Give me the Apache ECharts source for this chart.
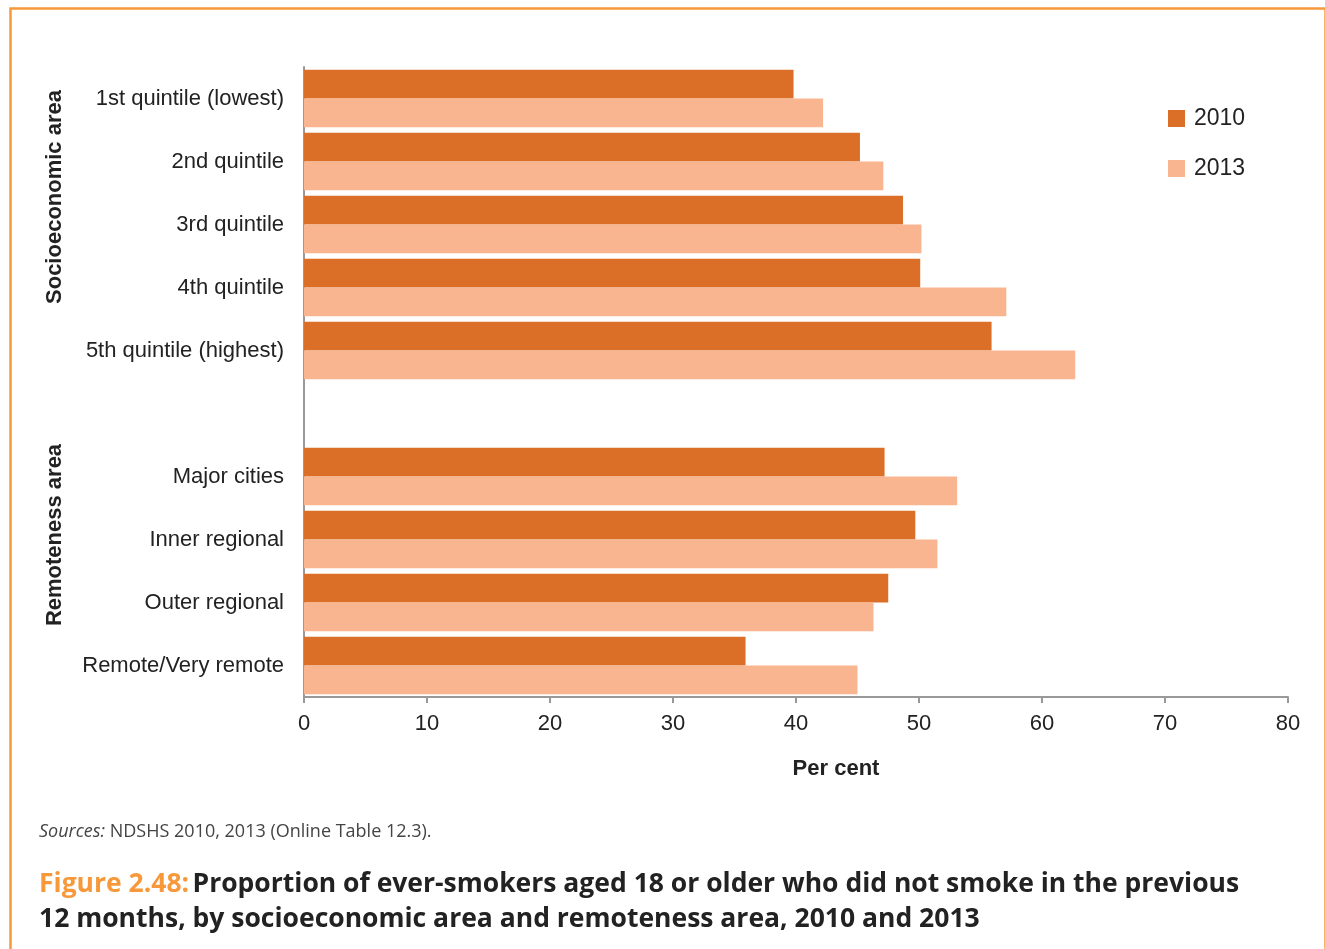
<!DOCTYPE html>
<html>
<head>
  <meta charset="UTF-8">
  <title>Figure 2.48</title>
  <script src="https://cdn.jsdelivr.net/npm/echarts@6/dist/echarts.min.js"></script>
  <style>
    * { margin: 0; padding: 0; }
    html, body { width: 1325px; height: 949px; background: #fff; overflow: hidden; }
    #main { width: 1325px; height: 949px; }
  </style>
</head>
<body>
<div id="main"></div>
<script>
  // categories (blank one = gap between the two groups)
  var categories = ['1st quintile (lowest)', '2nd quintile', '3rd quintile', '4th quintile', '5th quintile (highest)',
                    '', 'Major cities', 'Inner regional', 'Outer regional', 'Remote/Very remote'];
  var years = ['2010', '2013'];
  var values2010 = [39.8, 45.2, 48.7, 50.1, 55.9, null, 47.2, 49.7, 47.5, 35.9];
  var values2013 = [42.2, 47.1, 50.2, 57.1, 62.7, null, 53.1, 51.5, 46.3, 45.0];
  var xTicks = { min: 0, max: 80, step: 10 };

  var chart = echarts.init(document.getElementById('main'));
  var font = 'Liberation Sans, Arial, sans-serif';
  var capFont = 'Open Sans, Noto Sans, sans-serif';

  var option = {
    color: ['#DB6F27', '#F9B590'],
    animation: false,
    textStyle: { fontFamily: font },
    grid: { left: 304, right: 37, top: 67, bottom: 252 },
    legend: {
      orient: 'vertical',
      left: 1163, top: 102,
      itemWidth: 17, itemHeight: 17, itemGap: 27,
      icon: 'rect',
      textStyle: { fontSize: 23, color: '#222', fontFamily: font, padding: [0, 0, 0, 4] },
      data: years
    },
    xAxis: {
      type: 'value',
      min: xTicks.min, max: xTicks.max, interval: xTicks.step,
      splitLine: { show: false },
      axisLine: { show: true, lineStyle: { color: '#999', width: 2 } },
      axisTick: { show: true, length: 6, lineStyle: { color: '#999', width: 2 } },
      axisLabel: { fontSize: 22, color: '#222', margin: 16 },
      name: 'Per cent',
      nameLocation: 'middle',
      nameGap: 61,
      nameTextStyle: { fontSize: 22, fontWeight: 'bold', color: '#222', padding: [0, 0, 0, 80] }
    },
    yAxis: {
      type: 'category',
      inverse: true,
      data: categories,
      axisLine: { show: true, lineStyle: { color: '#999', width: 2 } },
      axisTick: { show: false },
      axisLabel: { fontSize: 22, color: '#222', margin: 20 }
    },
    series: [
      { name: years[0], type: 'bar', data: values2010, barGap: '0%', barCategoryGap: '9%' },
      { name: years[1], type: 'bar', data: values2013, barGap: '0%', barCategoryGap: '9%' }
    ],
    graphic: [
      { type: 'rect', left: 8, top: 6, z: 0, silent: true,
        shape: { width: 1315, height: 960 },
        style: { fill: 'none', stroke: '#F7993A', lineWidth: 2.5 } },
      { type: 'text', x: 55, y: 197, rotation: Math.PI / 2,
        style: { text: 'Socioeconomic area', font: 'bold 22px ' + font, fill: '#222', align: 'center', verticalAlign: 'middle' } },
      { type: 'text', x: 55, y: 535, rotation: Math.PI / 2,
        style: { text: 'Remoteness area', font: 'bold 22px ' + font, fill: '#222', align: 'center', verticalAlign: 'middle' } },
      { type: 'text', left: 39, top: 823,
        style: {
          text: '{i|Sources:} NDSHS 2010, 2013 (Online Table 12.3).',
          font: '18px ' + capFont, fill: '#444',
          rich: { i: { fontStyle: 'italic', fontSize: 18, fontFamily: capFont, fill: '#444' } }
        } },
      { type: 'text', left: 39, top: 871,
        style: {
          text: '{o|Figure 2.48:} {b|Proportion of ever-smokers aged 18 or older who did not smoke in the previous}\n{b|12 months, by socioeconomic area and remoteness area, 2010 and 2013}',
          rich: {
            o: { fontSize: 26.5, fontWeight: 'bold', fontFamily: capFont, fill: '#F7993A', lineHeight: 35 },
            b: { fontSize: 26.5, fontWeight: 'bold', fontFamily: capFont, fill: '#222', lineHeight: 35 }
          }
        } }
    ]
  };
  chart.setOption(option);
</script>
</body>
</html>
